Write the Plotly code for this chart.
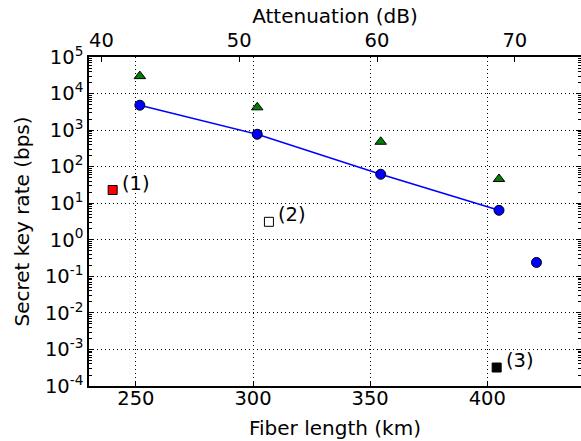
import math
import plotly.graph_objects as go

# ---- data ----
length_km = [251.7, 301.8, 354.5, 405.0]
rate_fit = [4800, 770, 62, 6.4]          # blue circles joined by line
extra_len = [421.0]
extra_rate = [0.24]                       # unconnected blue circle
tri_rate = [30000, 4200, 480, 46]         # green triangles (same lengths)

ref_labels = ["(1)", "(2)", "(3)"]
ref_len = [240.1, 306.8, 404.0]
ref_rate = [23, 3.1, 3.2e-4]
ref_fill = ["#ff0000", "#ffffff", "#000000"]

atten_per_km = 0.17
x_range = [230, 440]
y_exp = list(range(-4, 6))
x_ticks = [250, 300, 350, 400]
top_ticks = [40, 50, 60, 70]

FONT = "DejaVu Sans"
TICK_FS = 19.5
TITLE_FS = 20

fig = go.Figure()

fig.add_trace(go.Scatter(
    x=length_km, y=rate_fit, mode="lines+markers",
    line=dict(color="#0000ff", width=1.5),
    marker=dict(symbol="circle", size=10, color="#0000ff",
                line=dict(color="black", width=1)),
    showlegend=False, hoverinfo="skip"))
fig.add_trace(go.Scatter(
    x=extra_len, y=extra_rate, mode="markers",
    marker=dict(symbol="circle", size=10, color="#0000ff",
                line=dict(color="black", width=1)),
    showlegend=False, hoverinfo="skip"))
fig.add_trace(go.Scatter(
    x=length_km, y=tri_rate, mode="markers",
    marker=dict(symbol="triangle-up", size=10, color="#008000",
                line=dict(color="black", width=1)),
    showlegend=False, hoverinfo="skip"))
fig.add_trace(go.Scatter(
    x=ref_len, y=ref_rate, mode="markers",
    marker=dict(symbol="square", size=9, color=ref_fill,
                line=dict(color="black", width=1)),
    showlegend=False, hoverinfo="skip"))
# invisible trace that carries the top (attenuation) axis
fig.add_trace(go.Scatter(
    x=[v * atten_per_km for v in length_km], y=rate_fit, xaxis="x2",
    mode="markers", marker=dict(opacity=0), showlegend=False,
    hoverinfo="skip"))

for lab, xv, yv in zip(ref_labels, ref_len, ref_rate):
    fig.add_annotation(x=xv, y=math.log10(yv), text=lab,
                       showarrow=False, xanchor="left", yanchor="middle",
                       xshift=7, yshift=7,
                       font=dict(family=FONT, size=TICK_FS, color="black"))

# y-axis title as a rotated text placed left of the tick labels
fig.add_annotation(xref="paper", yref="paper", x=0, y=0.5,
                   xshift=-68, text="Secret key rate (bps)", textangle=-90,
                   showarrow=False, xanchor="center", yanchor="middle",
                   font=dict(family=FONT, size=TITLE_FS, color="black"))

minor_vals = [m * 10 ** e for e in range(-4, 5) for m in range(2, 10)]

fig.update_layout(
    width=581, height=441,
    margin=dict(l=89, r=0, t=57, b=55),
    paper_bgcolor="white", plot_bgcolor="white",
    font=dict(family=FONT, size=TICK_FS, color="black"),
    xaxis=dict(
        range=x_range, tickmode="array", tickvals=x_ticks,
        ticks="inside", ticklen=5, tickcolor="black", tickwidth=1,
        ticklabelstandoff=-6,
        showline=True, linecolor="black", linewidth=1.5, mirror=True,
        showgrid=True, gridcolor="black", gridwidth=1, griddash="1px,3px",
        zeroline=False, automargin=False,
        title=dict(text="Fiber length (km)", standoff=12,
                   font=dict(size=TITLE_FS)),
        tickfont=dict(size=TICK_FS),
    ),
    xaxis2=dict(
        overlaying="x", side="top",
        range=[x_range[0] * atten_per_km, x_range[1] * atten_per_km],
        tickmode="array", tickvals=top_ticks,
        ticks="inside", ticklen=5, tickcolor="black", tickwidth=1,
        ticklabelstandoff=5,
        showline=False, showgrid=False, zeroline=False, automargin=False,
        title=dict(text="Attenuation (dB)", standoff=0,
                   font=dict(size=TITLE_FS)),
        tickfont=dict(size=TICK_FS),
    ),
    yaxis=dict(
        type="log", range=[-4, 5],
        tickmode="array", tickvals=[10 ** e for e in y_exp],
        ticktext=[f"10<sup>{e}</sup>" for e in y_exp],
        ticks="inside", ticklen=5, tickcolor="black", tickwidth=1,
        minor=dict(tickmode="array", tickvals=minor_vals, ticks="inside",
                   ticklen=3, tickcolor="black", showgrid=False),
        showline=True, linecolor="black", linewidth=1.5, mirror="ticks",
        showgrid=True, gridcolor="black", gridwidth=1, griddash="1px,3px",
        zeroline=False, automargin=False,
        tickfont=dict(size=TICK_FS),
    ),
)

fig.write_html("out.html",
               config={"displayModeBar": False},
               post_script="document.body.style.margin='0';"
                           "document.body.style.overflow='hidden';")
